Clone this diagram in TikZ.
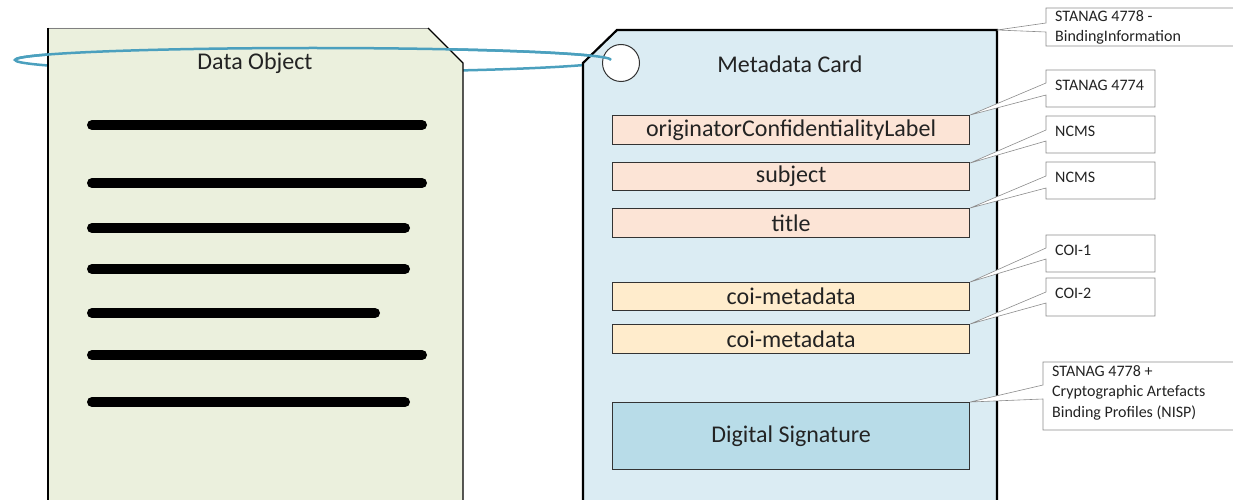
\documentclass[tikz,border=0pt]{standalone}
\usepackage{fontspec}
\setmainfont{Carlito}
\definecolor{docfill}{RGB}{235,240,221}
\definecolor{cardfill}{RGB}{219,236,243}
\definecolor{peach}{RGB}{252,228,214}
\definecolor{coifill}{RGB}{255,236,204}
\definecolor{sigfill}{RGB}{184,220,232}
\definecolor{ring}{RGB}{75,160,190}
\definecolor{txt}{RGB}{35,35,35}
\begin{document}
\begin{tikzpicture}[x=1pt,y=-1pt,
  field/.style={draw=black!80,line width=1.2pt,minimum width=357pt,inner sep=0pt,text=txt,font=\fontsize{24}{26}\selectfont,anchor=north west},
  note/.style={anchor=north west,align=left,inner sep=0pt,text=txt,font=\fontsize{16}{20.5}\selectfont},
  callout/.style={draw=black!45,line width=0.6pt,fill=white},
  textline/.style={line width=10pt,line cap=round}]
\useasboundingbox (0,0) rectangle (1233,500);
% back part of ring
\draw[ring,line width=2.5pt] (313,60) ellipse [x radius=298, y radius=12];
% data object
\fill[docfill] (48,28) -- (428,28) -- (463,63) -- (463,500) -- (48,500) -- cycle;
\draw[black!50,line width=0.8pt] (48,28) -- (428,28);
\draw[black,line width=1.4pt] (428,28) -- (463,63) -- (463,500);
\draw[black,line width=2.2pt] (48,28) -- (48,500);
\node[text=txt,font=\fontsize{24}{26}\selectfont] (dtitle) at (255,63) {Data Object};
\foreach \yy/\xe in {125/422,183/422,228/405,269/405,313/375,355/422,402/405}
  \draw[textline] (92,\yy) -- (\xe,\yy);
% metadata card
\fill[cardfill] (583,63) -- (617,30) -- (997,30) -- (997,500) -- (583,500) -- cycle;
\draw[black,line width=2.2pt] (583,500) -- (583,63) -- (617,30) -- (997,30) -- (997,500);
\node[draw=black!80,fill=white,circle,minimum size=37pt,line width=1pt,inner sep=0pt] (hole) at (621,63) {};
\node[text=txt,font=\fontsize{24}{26}\selectfont] (ctitle) at (790,64) {Metadata Card};
% front part of ring
\draw[ring,line width=2.5pt] (15,60) arc[start angle=180,end angle=360,x radius=298,y radius=12];
% fields
\node[field,fill=peach,minimum height=29pt] (ocl) at (612,115) {originatorConfidentialityLabel};
\node[field,fill=peach,minimum height=28pt] (subj) at (612,162) {subject};
\node[field,fill=peach,minimum height=29pt] (titl) at (612,208) {title};
\node[field,fill=coifill,minimum height=28pt] (coia) at (612,282) {coi-metadata};
\node[field,fill=coifill,minimum height=29pt] (coib) at (612,324) {coi-metadata};
\node[field,fill=sigfill,minimum height=67pt] (sig) at (612,402) {Digital Signature};
% annotation boxes (callouts)
\coordinate (cardtr) at (997,30);
\draw[callout] (1046,8) -- (1240,8) -- (1240,46) -- (1046,46) -- (1046,32) -- (cardtr) -- (1046,23) -- cycle;
\node[note] (n0) at (1055,10) {STANAG 4778 -\\BindingInformation};
\draw[callout] (1046,70) -- (1155,70) -- (1155,107) -- (1046,107) -- (1046,95) -- (ocl.north east) -- (1046,83) -- cycle;
\node[note] (n1) at (1055,80) {STANAG 4774};
\draw[callout] (1046,116) -- (1155,116) -- (1155,153) -- (1046,153) -- (1046,141) -- ([yshift=-1pt]subj.north east) -- (1046,130) -- cycle;
\node[note] (n2) at (1055,126) {NCMS};
\draw[callout] (1046,162) -- (1155,162) -- (1155,199) -- (1046,199) -- (1046,188) -- (titl.north east) -- (1046,176) -- cycle;
\node[note] (n3) at (1055,172) {NCMS};
\draw[callout] (1046,235) -- (1155,235) -- (1155,272) -- (1046,272) -- (1046,259) -- (coia.north east) -- (1046,248) -- cycle;
\node[note] (n4) at (1055,245) {COI-1};
\draw[callout] (1046,278) -- (1155,278) -- (1155,316) -- (1046,316) -- (1046,303) -- (coib.north east) -- (1046,292) -- cycle;
\node[note] (n5) at (1055,288) {COI-2};
\draw[callout] (1043,362) -- (1240,362) -- (1240,430) -- (1043,430) -- (1043,399) -- (sig.north east) -- (1043,385) -- cycle;
\node[note] (n6) at (1052,365) {STANAG 4778 +\\Cryptographic Artefacts\\Binding Profiles (NISP)};
\end{tikzpicture}
\end{document}
